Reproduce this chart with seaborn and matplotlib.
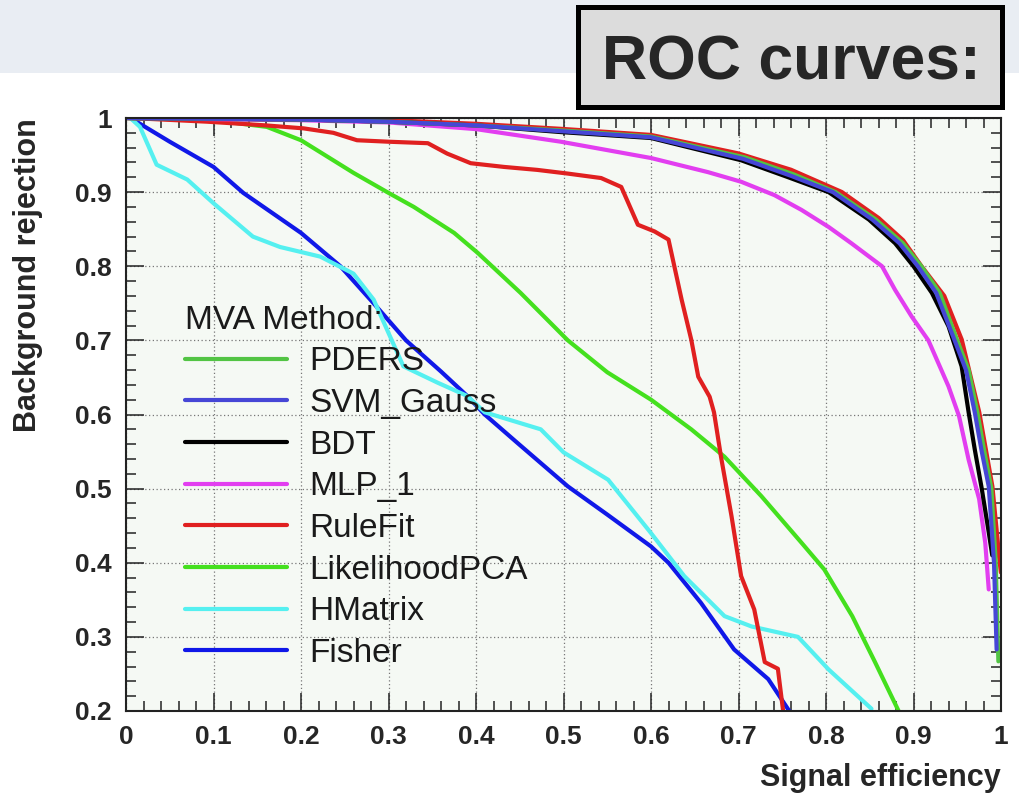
import matplotlib
matplotlib.use("Agg")
import matplotlib.pyplot as plt
from matplotlib.patches import Rectangle
from matplotlib.ticker import MultipleLocator, FuncFormatter
import seaborn as sns

# ROC curves: signal efficiency (x) vs background rejection (y)
pders_x = [0.0, 0.2, 0.3, 0.4, 0.5, 0.6, 0.707, 0.763, 0.811, 0.857, 0.888, 0.909, 0.93, 0.95, 0.963, 0.973, 0.981, 0.989, 0.994, 0.997]
pders_y = [1.0, 0.998, 0.995, 0.99, 0.983, 0.975, 0.947, 0.924, 0.90, 0.863, 0.831, 0.80, 0.764, 0.70, 0.66, 0.603, 0.55, 0.50, 0.40, 0.267]

svm_x = [0.0, 0.2, 0.3, 0.4, 0.5, 0.6, 0.705, 0.76, 0.808, 0.853, 0.884, 0.905, 0.926, 0.947, 0.96, 0.97, 0.978, 0.986, 0.992, 0.995]
svm_y = [1.0, 0.998, 0.995, 0.99, 0.982, 0.974, 0.945, 0.922, 0.90, 0.863, 0.831, 0.80, 0.764, 0.70, 0.66, 0.603, 0.55, 0.503, 0.40, 0.283]

bdt_x = [0.0, 0.2, 0.3, 0.4, 0.497, 0.6, 0.703, 0.757, 0.803, 0.849, 0.879, 0.9, 0.921, 0.94, 0.955, 0.963, 0.97, 0.978, 0.986, 0.99]
bdt_y = [1.0, 0.998, 0.995, 0.99, 0.981, 0.973, 0.943, 0.92, 0.90, 0.863, 0.831, 0.80, 0.764, 0.719, 0.665, 0.603, 0.553, 0.50, 0.441, 0.41]

mlp_x = [0.0, 0.2, 0.3, 0.4, 0.497, 0.6, 0.665, 0.703, 0.741, 0.772, 0.803, 0.829, 0.864, 0.879, 0.898, 0.917, 0.94, 0.952, 0.963, 0.975, 0.982, 0.986]
mlp_y = [1.0, 0.997, 0.994, 0.985, 0.968, 0.946, 0.927, 0.914, 0.896, 0.876, 0.853, 0.831, 0.80, 0.768, 0.732, 0.70, 0.638, 0.598, 0.539, 0.486, 0.427, 0.364]

rulefit_x = [0.005, 0.093, 0.16, 0.203, 0.237, 0.264, 0.30, 0.345, 0.367, 0.394, 0.432, 0.47, 0.505, 0.543, 0.566,
             0.585, 0.604, 0.62, 0.635, 0.646, 0.654, 0.667, 0.672, 0.68, 0.692, 0.703, 0.718, 0.73, 0.745, 0.751]
rulefit_y = [1.0, 0.995, 0.99, 0.986, 0.98, 0.97, 0.968, 0.966, 0.952, 0.939, 0.934, 0.93, 0.925, 0.919, 0.907,
             0.856, 0.847, 0.836, 0.755, 0.701, 0.651, 0.624, 0.603, 0.543, 0.463, 0.382, 0.337, 0.266, 0.257, 0.2]

lhpca_x = [0.0, 0.1, 0.161, 0.2, 0.26, 0.3, 0.329, 0.375, 0.402, 0.451, 0.505, 0.55, 0.6, 0.646, 0.684, 0.726, 0.772, 0.798, 0.83, 0.856, 0.883]
lhpca_y = [1.0, 0.997, 0.988, 0.97, 0.926, 0.899, 0.88, 0.845, 0.818, 0.764, 0.70, 0.657, 0.62, 0.58, 0.543, 0.49, 0.427, 0.391, 0.328, 0.266, 0.2]

hmatrix_x = [0.005, 0.016, 0.035, 0.07, 0.1, 0.145, 0.176, 0.222, 0.26, 0.283, 0.30, 0.317, 0.356, 0.39, 0.41,
             0.474, 0.50, 0.551, 0.60, 0.638, 0.684, 0.715, 0.768, 0.803, 0.852]
hmatrix_y = [1.0, 0.988, 0.937, 0.917, 0.885, 0.84, 0.826, 0.813, 0.79, 0.755, 0.71, 0.665, 0.643, 0.625, 0.603,
             0.58, 0.549, 0.512, 0.44, 0.382, 0.328, 0.314, 0.30, 0.256, 0.203]

fisher_x = [0.005, 0.05, 0.1, 0.134, 0.2, 0.245, 0.283, 0.32, 0.36, 0.39, 0.41, 0.447, 0.505, 0.55, 0.6, 0.62, 0.657, 0.695, 0.734, 0.758]
fisher_y = [1.0, 0.968, 0.934, 0.899, 0.845, 0.8, 0.75, 0.70, 0.658, 0.625, 0.6, 0.562, 0.503, 0.465, 0.422, 0.40, 0.346, 0.283, 0.243, 0.2]

# outermost red curve of the top bundle (not listed in the legend)
extra_x = [0.0, 0.3, 0.4, 0.5, 0.6, 0.7, 0.76, 0.818, 0.86, 0.888, 0.909, 0.935, 0.955, 0.975, 0.99, 0.997, 1.0]
extra_y = [1.0, 0.997, 0.992, 0.985, 0.977, 0.952, 0.93, 0.90, 0.865, 0.835, 0.80, 0.76, 0.701, 0.603, 0.503, 0.418, 0.387]

methods = ["PDERS", "SVM_Gauss", "BDT", "MLP_1", "RuleFit", "LikelihoodPCA", "HMatrix", "Fisher"]
colors = {"PDERS": "#52c444", "SVM_Gauss": "#4646d6", "BDT": "#000000", "MLP_1": "#e23ef0",
          "RuleFit": "#e02020", "LikelihoodPCA": "#44e01e", "HMatrix": "#55f0f0", "Fisher": "#1018e8"}
curves = {"PDERS": (pders_x, pders_y), "SVM_Gauss": (svm_x, svm_y), "BDT": (bdt_x, bdt_y),
          "MLP_1": (mlp_x, mlp_y), "RuleFit": (rulefit_x, rulefit_y), "LikelihoodPCA": (lhpca_x, lhpca_y),
          "HMatrix": (hmatrix_x, hmatrix_y), "Fisher": (fisher_x, fisher_y)}

sns.set_style("ticks")
plt.rcParams['font.family'] = ['Liberation Sans', 'DejaVu Sans']

W, H = 1019, 794
fig = plt.figure(figsize=(W / 100, H / 100), dpi=100)

# header banner and title box
fig.add_artist(Rectangle((0, 1 - 73 / H), 1, 73 / H, transform=fig.transFigure,
                         facecolor="#e9edf3", edgecolor="none", zorder=0))
fig.add_artist(Rectangle((577.5 / W, 1 - 106.5 / H), 424 / W, 99 / H, transform=fig.transFigure,
                         facecolor="#dcdcdc", edgecolor="black", lw=3.6, zorder=1))
fig.text(791 / W, 1 - 80 / H, "ROC curves:", ha="center", va="baseline",
         fontsize=45, fontweight="bold", zorder=2)

ax = fig.add_axes([126 / W, 1 - 711 / H, 875 / W, 593 / H])
ax.set_facecolor("#f5f9f4")

draw_order = ["Fisher", "HMatrix", "LikelihoodPCA", "RuleFit", "MLP_1", "BDT", "PDERS", "SVM_Gauss"]
sns.lineplot(x=extra_x, y=extra_y, color="#e02020", lw=3.2, sort=False, estimator=None, ax=ax, legend=False)
for name in draw_order:
    xs, ys = curves[name]
    sns.lineplot(x=xs, y=ys, color=colors[name], lw=3, sort=False, estimator=None,
                 label=name, ax=ax)

ax.set_xlim(0, 1)
ax.set_ylim(0.2, 1)
ax.xaxis.set_major_locator(MultipleLocator(0.1))
ax.xaxis.set_minor_locator(MultipleLocator(0.02))
ax.yaxis.set_major_locator(MultipleLocator(0.1))
ax.yaxis.set_minor_locator(MultipleLocator(0.02))
fmt = FuncFormatter(lambda v, p: f"{v:g}")
ax.xaxis.set_major_formatter(fmt)
ax.yaxis.set_major_formatter(fmt)
ax.tick_params(which="both", direction="in", top=True, right=True, width=1.1, color="#222222")
ax.tick_params(which="major", length=13, pad=10, labelsize=19)
ax.tick_params(which="minor", length=7)
for lab in ax.get_xticklabels() + ax.get_yticklabels():
    lab.set_fontweight("bold")
ax.grid(True, which="major", color="#777777", lw=0.9, linestyle=(0, (1, 2)))
for sp in ax.spines.values():
    sp.set_linewidth(1.5)
    sp.set_color("#222222")

ax.set_xlabel("Signal efficiency", fontsize=22, fontweight="bold", loc="right")
ax.xaxis.set_label_coords(1.0, -(763 - 711) / 593)
ax.set_ylabel("Background rejection", fontsize=22, fontweight="bold", loc="top")
ax.yaxis.set_label_coords((43 - 126) / 875, 1.0)

handles = {l.get_label(): l for l in ax.get_lines()}
leg = ax.legend([handles[m] for m in methods], methods, title="MVA Method:",
                loc="upper left", bbox_to_anchor=(168 / W, 1 - 288 / H),
                bbox_transform=fig.transFigure, frameon=False, fontsize=24, title_fontsize=24,
                handlelength=3.06, handletextpad=0.69, labelspacing=0.32, borderpad=0,
                alignment="left")
for t in leg.get_texts():
    t.set_color("#1a1a1a")
leg.get_title().set_color("#1a1a1a")

fig.savefig("out.png", dpi=100)
